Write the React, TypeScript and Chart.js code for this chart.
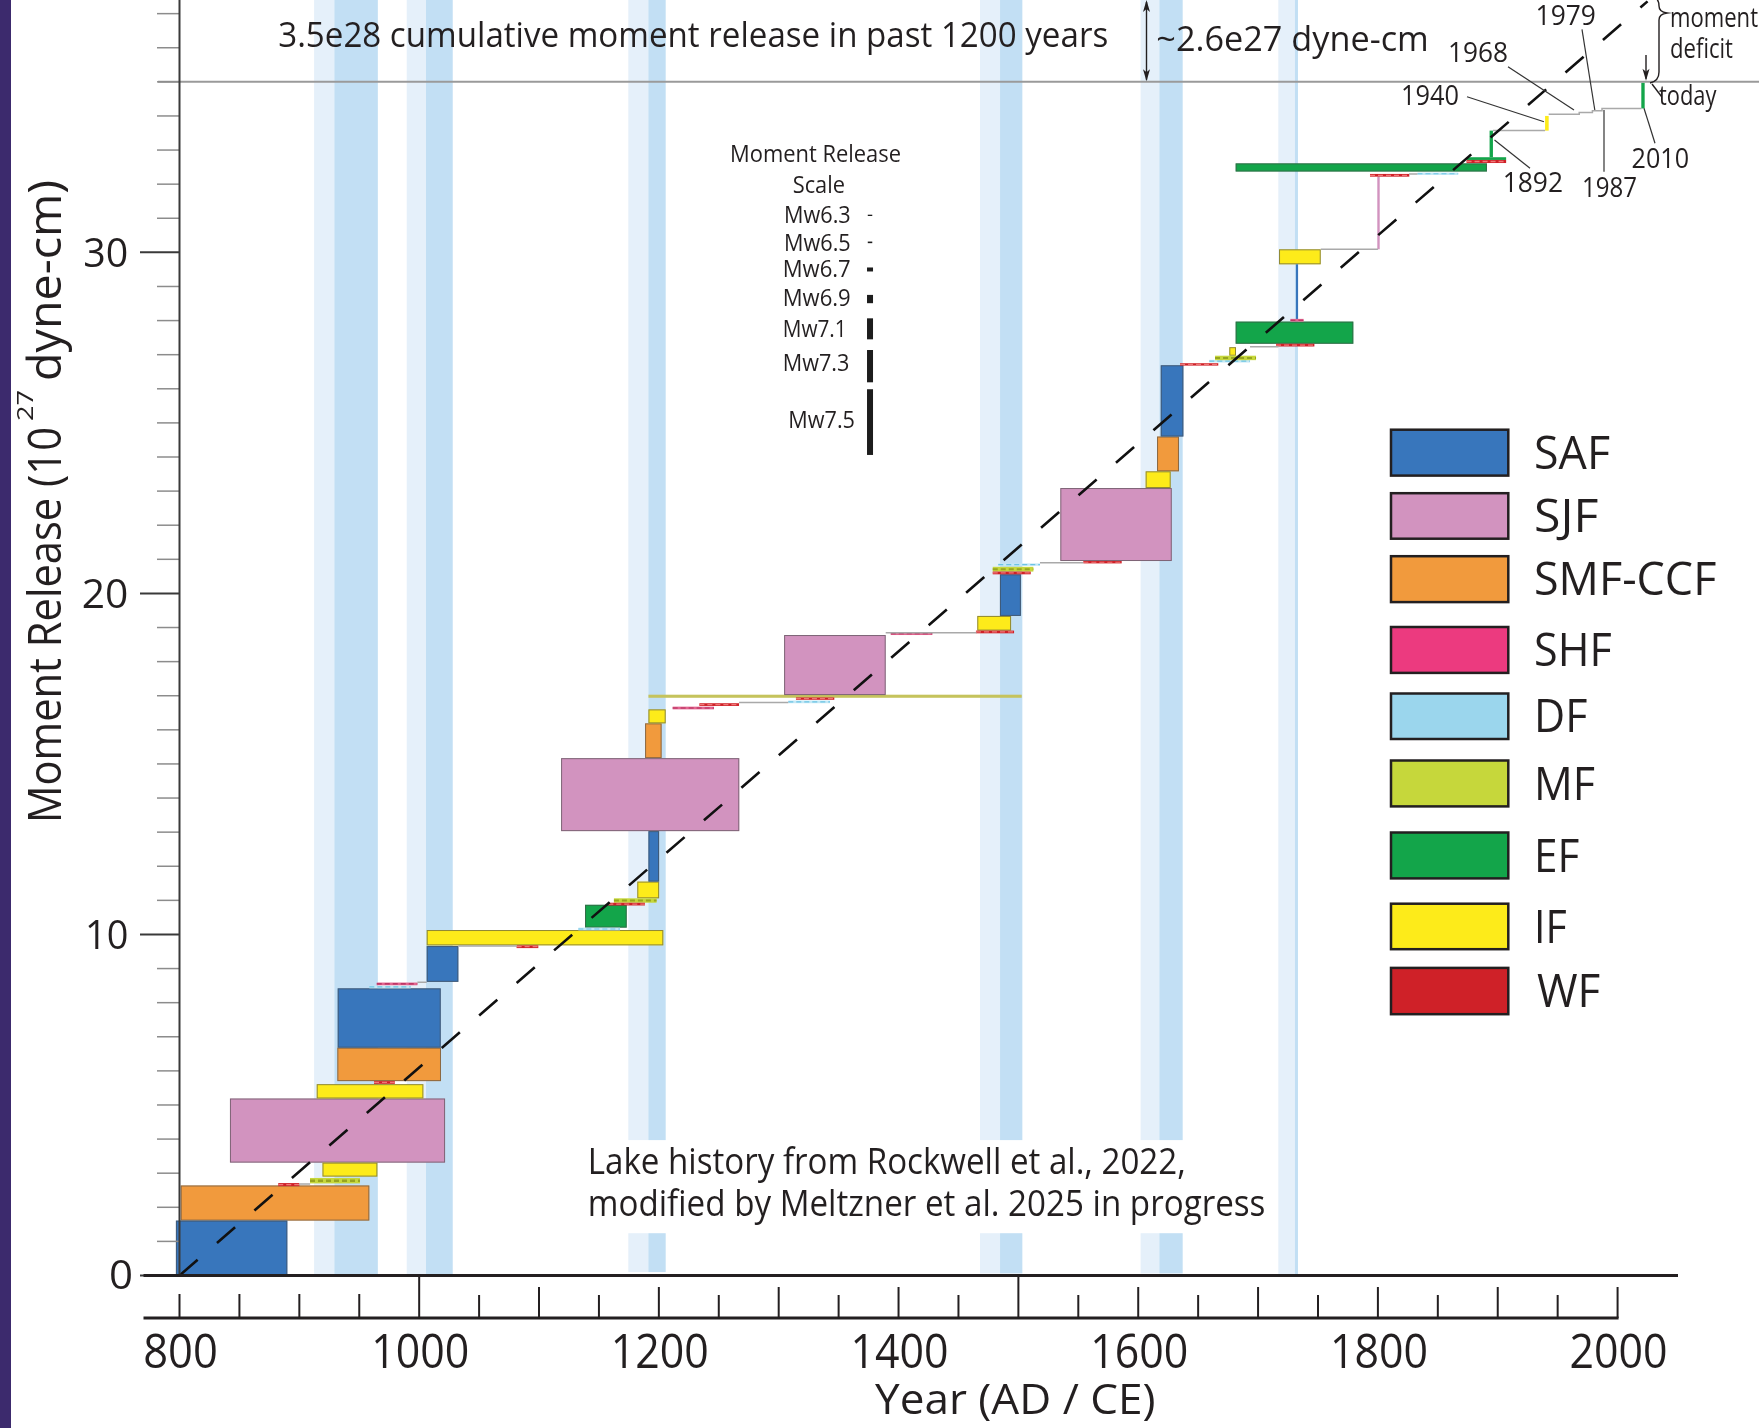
import React, { useEffect, useRef } from 'react';
import { Chart, registerables } from 'chart.js';

Chart.register(...registerables);

const W = 1759;
const H = 1428;
const FONT = "'Open Sans', 'Noto Sans', 'DejaVu Sans', sans-serif";
const INK = '#231f20';

// ---------------- data ----------------
const xTickValues = [800, 850, 900, 950, 1000, 1050, 1100, 1150, 1200, 1250, 1300, 1350, 1400, 1450, 1500, 1550, 1600, 1650, 1700, 1750, 1800, 1850, 1900, 1950, 2000];
const xTickLabels = [800, 1000, 1200, 1400, 1600, 1800, 2000];
const yTickLabels = [0, 10, 20, 30];
const yMinorMax = 37;

const cumulativeTotal = 35; // 3.5e28 dyne-cm
const rateLineYears = [800, 2025];
const rateLineValues = [0, 37.36];

// lake highstands (years)
const bandLight = [[912.3, 929.2], [989.6, 1005.7], [1174.5, 1191.2], [1468, 1484.7], [1602, 1617.6], [1716.9, 1730.8]];
const bandDark = [[929.2, 965.5], [1005.7, 1028], [1191.2, 1205.7], [1484.7, 1503.3], [1617.6, 1637.1], [1730.8, 1733.3]];
const bandSpans = [
  [[0, 37.4]],
  [[0, 37.4]],
  [[0.1, 1.24], [3.97, 37.4]],
  [[0.06, 1.24], [3.97, 37.4]],
  [[0.06, 1.24], [3.97, 37.4]],
  [[0, 37.4]],
];

// events: [startYear, endYear, bottom, top] (1e27 dyne-cm)
const safBoxes = [
  [797, 890, 0, 1.61],
  [932, 1018, 6.68, 8.42],
  [1006.3, 1032.7, 8.61, 9.66],
  [1191.3, 1200.2, 11.55, 13.03],
  [1484.6, 1502.1, 19.34, 20.56],
  [1618.8, 1637.7, 24.6, 26.69],
  [1731.6, 1733.4, 28.03, 29.65],
];
const sjfBoxes = [
  [842.1, 1021.6, 3.31, 5.19],
  [1118.4, 1267.1, 13.03, 15.17],
  [1304.5, 1389.3, 17.02, 18.78],
  [1535, 1628, 20.95, 23.09],
  [1799.5, 1801.5, 30.09, 32.22],
];
const smfBoxes = [
  [801, 958.4, 1.61, 2.64],
  [931.7, 1018.2, 5.7, 6.68],
  [1188.5, 1202.3, 15.17, 16.19],
  [1615.7, 1634, 23.58, 24.6],
];
const efBoxes = [
  [1138.4, 1173.2, 10.2, 10.87],
  [1681.3, 1779.5, 27.32, 27.97],
  [1681.3, 1891, 32.37, 32.61],
  [1874, 1907, 32.71, 32.79],
  [1893.2, 1896, 32.79, 33.57],
  [2019.8, 2022.6, 34.22, 34.97],
];
const ifBoxes = [
  [919.3, 965.1, 2.9, 3.31],
  [914.5, 1003.5, 5.19, 5.61],
  [1006.3, 1203.7, 9.68, 10.13],
  [1182, 1200.2, 11.06, 11.55],
  [1191.3, 1205.7, 16.19, 16.6],
  [1465.7, 1493.9, 18.91, 19.34],
  [1606.2, 1627.1, 23.09, 23.58],
  [1676, 1681.6, 26.97, 27.22],
  [1717.5, 1752.3, 29.65, 30.09],
  [1939.5, 1942.5, 33.57, 34.0],
];
const mfBoxes = [
  [1191.3, 1502.8, 16.94, 17.03],
];
const wfMarks = [
  [882.4, 900, 2.62, 2.71],
  [962.3, 979.7, 5.62, 5.7],
  [1081.3, 1099.4, 9.6, 9.68],
  [1157.8, 1188.4, 10.85, 10.93],
  [1233.8, 1266.9, 16.7, 16.78],
  [1314.4, 1346.4, 16.88, 16.95],
  [1464.6, 1496.4, 18.83, 18.91],
  [1478.6, 1510.3, 20.56, 20.64],
  [1554.2, 1586.2, 20.88, 20.95],
  [1634.9, 1666.8, 26.68, 26.75],
  [1715, 1747, 27.24, 27.32],
  [1793.4, 1826.2, 32.22, 32.3],
  [1874, 1907, 32.62, 32.71],
];
const shfMarks = [
  [964.6, 998.5, 8.51, 8.59],
  [1211.5, 1246, 16.6, 16.68],
  [1393.5, 1428.2, 18.78, 18.85],
  [1727, 1738, 27.97, 28.05],
];
const dfMarks = [
  [958.4, 992.9, 8.42, 8.5],
  [1132.8, 1167.6, 10.12, 10.2],
  [1308, 1342.8, 16.78, 16.86],
  [1483.2, 1518, 20.81, 20.88],
  [1659.3, 1693.3, 26.77, 26.85],
  [1833, 1867, 32.27, 32.34],
];
const mfMarks = [
  [908.9, 950.6, 2.7, 2.86],
  [1162.5, 1198.1, 10.93, 11.06],
  [1478.6, 1512.5, 20.64, 20.78],
  [1664.1, 1698.3, 26.84, 26.97],
];

// gray cumulative connectors [startYear, endYear, value]
const stepSegments = [
  [900, 909, 2.68],
  [998.5, 1006.3, 8.6],
  [1032.7, 1081.3, 9.66],
  [1266.9, 1308, 16.8],
  [1389.3, 1465, 18.85],
  [1518, 1554.2, 20.9],
  [1693.3, 1717, 27.23],
  [1752.3, 1800, 30.09],
  [1826, 1833, 32.3],
  [1896, 1939.5, 33.57],
];
const recentPathYears = [1942.5, 1968, 1968, 1979, 1979, 1987, 1987, 2020];
const recentPathValues = [34.05, 34.05, 34.1, 34.1, 34.15, 34.15, 34.22, 34.22];

// moment release scale
const scaleMw = ['Mw6.3', 'Mw6.5', 'Mw6.7', 'Mw6.9', 'Mw7.1', 'Mw7.3', 'Mw7.5'];
const scaleMoment = [0.035, 0.047, 0.117, 0.243, 0.616, 0.947, 1.927];
const scaleBase = [31.07, 30.27, 29.44, 28.51, 27.45, 26.19, 24.06];
const scaleBarYear = 1376.2;

const legendNames = ['SAF', 'SJF', 'SMF-CCF', 'SHF', 'DF', 'MF', 'EF', 'IF', 'WF'];

// ---------------- styles ----------------
const COLORS = {
  SAF: '#3876bc',
  SJF: '#d293bf',
  SMF: '#f19a3d',
  SHF: '#ec3a7f',
  DF: '#9bd6ed',
  MF: '#c6d73b',
  EF: '#13a54a',
  IF: '#fdeb1a',
  WF: '#cf2128',
};
const LEGEND_COLORS = [COLORS.SAF, COLORS.SJF, COLORS.SMF, COLORS.SHF, COLORS.DF, COLORS.MF, COLORS.EF, COLORS.IF, COLORS.WF];
const LEGEND_BOXES = [[429.7, 475.6], [493.2, 538.7], [556.2, 602.1], [627, 672.9], [693.5, 739], [760.5, 806.4], [832.5, 878.4], [903.7, 949.2], [967.9, 1014.2]];
const LEGEND_TEXT_W = [76, 64.3, 182.3, 77.7, 53.3, 61, 45.3, 32.7, 63.3];

function fitText(ctx, text, x, y, size, width, align = 'left') {
  ctx.font = `${size}px ${FONT}`;
  const w = ctx.measureText(text).width || 1;
  ctx.save();
  ctx.translate(x, y);
  ctx.scale(width / w, 1);
  ctx.textAlign = align;
  ctx.textBaseline = 'alphabetic';
  ctx.fillStyle = INK;
  ctx.fillText(text, 0, 0);
  ctx.restore();
}

function seg(ctx, x1, y1, x2, y2) {
  ctx.beginPath();
  ctx.moveTo(x1, y1);
  ctx.lineTo(x2, y2);
  ctx.stroke();
}

function arrowHead(ctx, x, tipY, dir) {
  ctx.beginPath();
  ctx.moveTo(x, tipY);
  ctx.lineTo(x - 3.5, tipY - 12 * dir);
  ctx.lineTo(x, tipY - 9 * dir);
  ctx.lineTo(x + 3.5, tipY - 12 * dir);
  ctx.closePath();
  ctx.fill();
}

function drawBoxes(ctx, xs, ys, list, fill) {
  for (const [a, b, lo, hi] of list) {
    const l = xs.getPixelForValue(a);
    const r = xs.getPixelForValue(b);
    const t = ys.getPixelForValue(hi);
    const bt = ys.getPixelForValue(lo);
    const w = r - l;
    const h = bt - t;
    ctx.fillStyle = fill;
    ctx.fillRect(l, t, w, h);
    if (w > 6 && h > 6) {
      ctx.strokeStyle = 'rgba(70,70,70,0.6)';
      ctx.lineWidth = 1;
      ctx.strokeRect(l + 0.5, t + 0.5, w - 1, h - 1);
    }
  }
}

function drawMarks(ctx, xs, ys, list, fill, dash) {
  for (const [a, b, lo, hi] of list) {
    const l = xs.getPixelForValue(a);
    const r = xs.getPixelForValue(b);
    const t = ys.getPixelForValue(hi);
    const bt = ys.getPixelForValue(lo);
    const h = Math.max(2, bt - t);
    ctx.fillStyle = fill;
    ctx.fillRect(l, t, r - l, h);
    ctx.save();
    ctx.setLineDash([5, 3]);
    ctx.strokeStyle = dash;
    ctx.lineWidth = Math.max(1, h * 0.45);
    seg(ctx, l, t + h / 2, r, t + h / 2);
    ctx.restore();
  }
}

const figurePlugin = {
  id: 'quakeFigure',
  beforeDraw(chart) {
    const { ctx } = chart;
    ctx.save();
    ctx.fillStyle = '#ffffff';
    ctx.fillRect(0, 0, W, H);
    ctx.fillStyle = '#3c2a6d';
    ctx.fillRect(0, 0, 11, H);
    ctx.restore();
  },
  beforeDatasetsDraw(chart) {
    const { ctx } = chart;
    const xs = chart.scales.x;
    const ys = chart.scales.y;
    ctx.save();
    // lake bands
    bandLight.forEach((lt, i) => {
      const dk = bandDark[i];
      for (const [lo, hi] of bandSpans[i]) {
        const t = ys.getPixelForValue(hi);
        const b = ys.getPixelForValue(lo);
        ctx.fillStyle = '#e5f0fa';
        ctx.fillRect(xs.getPixelForValue(lt[0]), t, xs.getPixelForValue(lt[1]) - xs.getPixelForValue(lt[0]), b - t);
        ctx.fillStyle = '#c2dff4';
        ctx.fillRect(xs.getPixelForValue(dk[0]), t, xs.getPixelForValue(dk[1]) - xs.getPixelForValue(dk[0]), b - t);
      }
    });
    // total moment line
    const y35 = ys.getPixelForValue(cumulativeTotal);
    ctx.strokeStyle = '#9a9a9a';
    ctx.lineWidth = 2;
    seg(ctx, 158, y35, W, y35);

    drawBoxes(ctx, xs, ys, mfBoxes, '#c5c35c');
    drawBoxes(ctx, xs, ys, smfBoxes, COLORS.SMF);
    drawBoxes(ctx, xs, ys, sjfBoxes, COLORS.SJF);
    drawBoxes(ctx, xs, ys, ifBoxes, COLORS.IF);
    drawBoxes(ctx, xs, ys, safBoxes, COLORS.SAF);
    drawBoxes(ctx, xs, ys, efBoxes, COLORS.EF);
    drawMarks(ctx, xs, ys, dfMarks, '#c4e8f6', '#6cc3e4');
    drawMarks(ctx, xs, ys, mfMarks, COLORS.MF, '#97a51f');
    drawMarks(ctx, xs, ys, shfMarks, '#e2668f', '#b1285a');
    drawMarks(ctx, xs, ys, wfMarks, COLORS.WF, '#f07878');
    ctx.restore();
  },
  afterDatasetsDraw(chart) {
    const { ctx, chartArea } = chart;
    const xs = chart.scales.x;
    const ys = chart.scales.y;
    const y0 = ys.getPixelForValue(0);
    const axisY = y0 + 42.5;
    ctx.save();
    ctx.lineCap = 'butt';

    // ---- y axis ----
    for (let v = 0; v <= yMinorMax; v++) {
      const y = ys.getPixelForValue(v);
      if (v % 10 === 0) {
        ctx.strokeStyle = '#3a3a3a';
        ctx.lineWidth = 2;
        seg(ctx, 140, y, chartArea.left, y);
      } else {
        ctx.strokeStyle = '#8c8c8c';
        ctx.lineWidth = 1.5;
        seg(ctx, 157, y, chartArea.left, y);
      }
    }
    ctx.strokeStyle = '#3a3a3a';
    ctx.lineWidth = 2;
    seg(ctx, chartArea.left, 0, chartArea.left, y0);
    const yLabelW = { 0: 24, 10: 43.3, 20: 46.6, 30: 45 };
    for (const v of yTickLabels) {
      const y = ys.getPixelForValue(v);
      fitText(ctx, String(v), v === 0 ? 133 : 128.3, y + (v === 0 ? 13 : 15), 40, yLabelW[v], 'right');
    }
    // y title (rotated)
    ctx.save();
    ctx.translate(61, 823);
    ctx.rotate(-Math.PI / 2);
    fitText(ctx, 'Moment Release (10', 0, 0, 45, 396, 'left');
    ctx.restore();
    ctx.save();
    ctx.translate(33, 421);
    ctx.rotate(-Math.PI / 2);
    fitText(ctx, '27', 0, 0, 21, 31, 'left');
    ctx.restore();
    ctx.save();
    ctx.translate(61, 381);
    ctx.rotate(-Math.PI / 2);
    fitText(ctx, 'dyne-cm)', 0, 0, 45, 201, 'left');
    ctx.restore();

    // ---- x axis ----
    ctx.strokeStyle = INK;
    ctx.lineWidth = 3;
    seg(ctx, 143.5, y0, 1678, y0);
    seg(ctx, 143.5, axisY, xs.getPixelForValue(2000) + 1, axisY);
    ctx.lineWidth = 2;
    for (const v of xTickValues) {
      const x = xs.getPixelForValue(v);
      let top;
      if (v === 1000 || v === 1500) top = y0;
      else if (v < 1000) top = axisY - 24;
      else top = v % 100 === 0 ? axisY - 31 : axisY - 23;
      seg(ctx, x, axisY, x, top);
    }
    for (const v of xTickLabels) {
      const s = String(v);
      fitText(ctx, s, xs.getPixelForValue(v) + 1, 1368, 47, s.length === 3 ? 74.6 : 98, 'center');
    }
    fitText(ctx, 'Year (AD / CE)', 875, 1414, 42, 280.5, 'left');

    // ---- annotations ----
    fitText(ctx, '3.5e28 cumulative moment release in past 1200 years', 278.2, 46.7, 35, 830, 'left');
    fitText(ctx, '~2.6e27 dyne-cm', 1156.3, 50.5, 34, 272.5, 'left');
    fitText(ctx, 'Lake history from Rockwell et al., 2022,', 587.8, 1173.5, 36, 598, 'left');
    fitText(ctx, 'modified by Meltzner et al. 2025 in progress', 587.8, 1216, 36, 677.6, 'left');

    // double arrow for deficit
    const y35 = ys.getPixelForValue(cumulativeTotal);
    const xd = 1146.5;
    ctx.strokeStyle = INK;
    ctx.fillStyle = INK;
    ctx.lineWidth = 1.4;
    seg(ctx, xd, 2, xd, y35 - 2);
    arrowHead(ctx, xd, y35 - 0.5, 1);
    arrowHead(ctx, xd, 0, -1);

    // moment deficit brace + arrow
    ctx.lineWidth = 1.4;
    ctx.beginPath();
    ctx.moveTo(1652, -4);
    ctx.quadraticCurveTo(1659, -2, 1659, 6);
    ctx.quadraticCurveTo(1659, 12, 1667, 13);
    ctx.quadraticCurveTo(1659, 14, 1659, 20);
    ctx.lineTo(1659, 72);
    ctx.quadraticCurveTo(1659, 81, 1650, 83);
    ctx.stroke();
    seg(ctx, 1646, 55, 1646, y35 - 3);
    arrowHead(ctx, 1646, y35 - 1, 1);
    seg(ctx, 1652, 84, 1661.5, 96.5);

    // year pointers
    ctx.strokeStyle = '#333';
    ctx.lineWidth = 1.2;
    seg(ctx, 1582, 29.3, 1594.8, 110);
    seg(ctx, 1508, 66.7, 1574, 110);
    seg(ctx, 1467, 96.7, 1544, 121.7);
    seg(ctx, 1494.5, 140, 1530, 168.3);
    seg(ctx, 1604, 110, 1604, 171.7);
    seg(ctx, 1644, 108.3, 1655, 143.3);
    fitText(ctx, '1979', 1535.6, 25, 28, 60.3, 'left');
    fitText(ctx, '1968', 1448, 61.7, 28, 60, 'left');
    fitText(ctx, '1940', 1401, 105, 28, 58, 'left');
    fitText(ctx, '1892', 1502.7, 191.7, 28, 60.3, 'left');
    fitText(ctx, '1987', 1582, 196.7, 28, 55, 'left');
    fitText(ctx, '2010', 1631.5, 168.3, 28, 57.5, 'left');
    fitText(ctx, 'today', 1659, 104.5, 27, 57.4, 'left');
    fitText(ctx, 'moment', 1670, 26.7, 27, 88, 'left');
    fitText(ctx, 'deficit', 1670, 58, 27, 63, 'left');

    // ---- moment release scale ----
    fitText(ctx, 'Moment Release', 730, 162.3, 24, 171, 'left');
    fitText(ctx, 'Scale', 792.7, 192.5, 24, 52.3, 'left');
    const mwRight = [850.7, 850.7, 850.7, 850.7, 846.7, 849.3, 855];
    const mwBase = [223.3, 250.7, 277.3, 306, 337.3, 370.5, 428.3];
    const mwW = [66.7, 66.7, 68, 68, 64, 66.6, 66.7];
    const bx = xs.getPixelForValue(scaleBarYear);
    scaleMw.forEach((m, i) => {
      fitText(ctx, m, mwRight[i], mwBase[i], 23, mwW[i], 'right');
      const t = ys.getPixelForValue(scaleBase[i] + scaleMoment[i]);
      const b = ys.getPixelForValue(scaleBase[i]);
      const w = i < 2 ? 4.5 : 6;
      ctx.fillStyle = '#1d1d1d';
      ctx.fillRect(bx - w / 2, t, w, Math.max(1.3, b - t));
    });

    // ---- legend ----
    legendNames.forEach((name, i) => {
      const [t, b] = LEGEND_BOXES[i];
      ctx.fillStyle = LEGEND_COLORS[i];
      ctx.fillRect(1391, t, 117.3, b - t);
      ctx.strokeStyle = INK;
      ctx.lineWidth = 2.5;
      ctx.strokeRect(1391, t, 117.3, b - t);
      fitText(ctx, name, name === 'WF' ? 1537 : 1534, (t + b) / 2 + 16.2, 45, LEGEND_TEXT_W[i], 'left');
    });
    ctx.restore();
  },
};

export default function App() {
  const ref = useRef<HTMLCanvasElement | null>(null);
  useEffect(() => {
    if (!ref.current) return;
    const connectorPoints: any[] = [];
    for (const [a, b, v] of stepSegments) {
      connectorPoints.push({ x: a, y: v }, { x: b, y: v }, { x: b, y: null });
    }
    recentPathYears.forEach((x, i) => connectorPoints.push({ x, y: recentPathValues[i] }));
    const rate = rateLineYears.map((x, i) => ({ x, y: rateLineValues[i] }));
    const chart = new Chart(ref.current, {
      type: 'line',
      data: {
        datasets: [
          {
            label: 'Average moment rate',
            data: rate,
            borderColor: '#111111',
            borderWidth: 2.6,
            borderDash: [24, 25.6],
            borderCapStyle: 'butt',
            pointRadius: 0,
            fill: false,
          },
          {
            label: 'Cumulative path',
            data: connectorPoints,
            borderColor: '#a9a9a9',
            borderWidth: 1.5,
            pointRadius: 0,
            fill: false,
            spanGaps: false,
          },
        ],
      },
      options: {
        animation: false,
        responsive: false,
        devicePixelRatio: 1,
        layout: { padding: { left: 179.5, right: 81.5, top: 0, bottom: 152.5 } },
        scales: {
          x: { type: 'linear', min: 800, max: 2050, display: false },
          y: { type: 'linear', min: 0, max: 37.4, display: false },
        },
        plugins: { legend: { display: false }, tooltip: { enabled: false } },
      },
      plugins: [figurePlugin],
    } as any);
    return () => chart.destroy();
  }, []);
  return (
    <div style={{ position: 'absolute', left: 0, top: 0, width: W, height: H, background: '#fff' }}>
      <canvas ref={ref} width={W} height={H} style={{ display: 'block', width: W, height: H }} />
    </div>
  );
}
